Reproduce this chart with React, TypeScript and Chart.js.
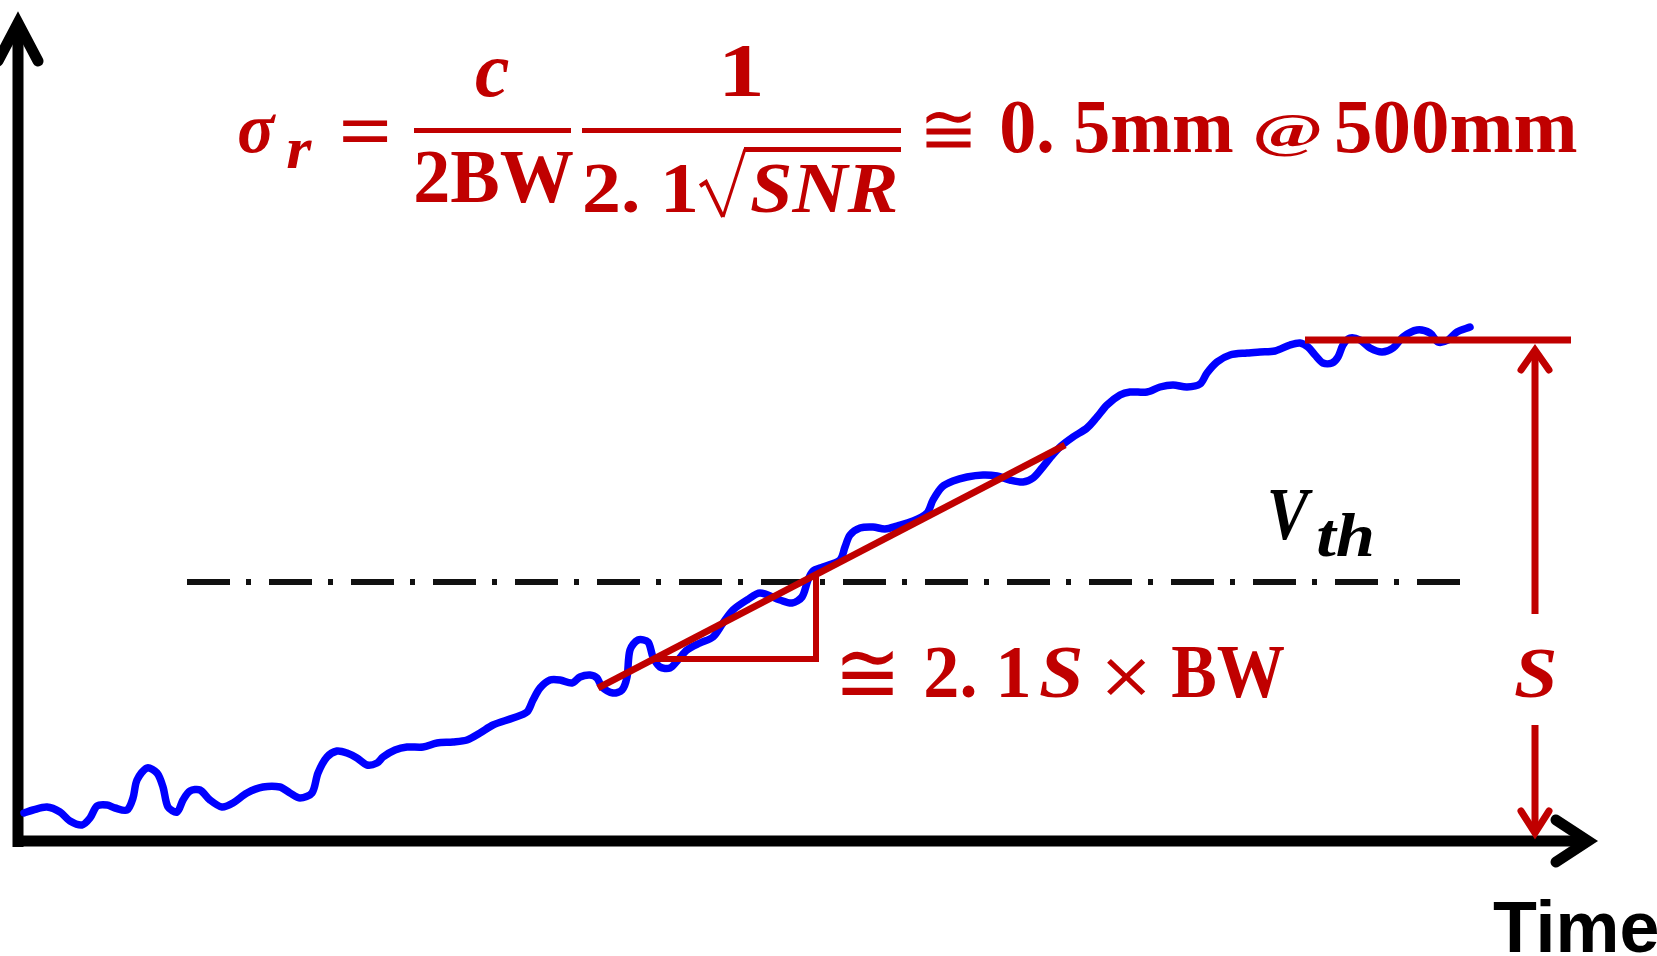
import { useEffect, useRef } from "react";
import Chart from "chart.js/auto";

// ---- data (time units, signal units) ----
const signalTime = [6, 15, 29, 42, 52, 64, 72, 79, 89, 97, 109, 115, 119, 129, 139, 145, 150, 159, 165, 172, 182, 192, 204, 215, 229, 245, 262, 272, 282, 294, 300, 309, 319, 329, 339, 349, 359, 365, 377, 389, 405, 419, 435, 449, 462, 475, 495, 509, 515, 522, 532, 542, 554, 562, 572, 579, 584, 595, 604, 609, 612, 620, 630, 635, 642, 652, 660, 669, 682, 695, 705, 715, 729, 742, 762, 774, 784, 790, 795, 805, 822, 827, 832, 842, 855, 867, 879, 895, 909, 915, 924, 935, 949, 965, 979, 992, 1005, 1015, 1024, 1032, 1042, 1055, 1069, 1079, 1089, 1102, 1112, 1129, 1142, 1155, 1169, 1182, 1189, 1199, 1212, 1229, 1242, 1257, 1272, 1282, 1290, 1297, 1305, 1314, 1320, 1325, 1332, 1342, 1352, 1364, 1375, 1385, 1399, 1412, 1420, 1430, 1439, 1452];
const signalVolt = [28, 31, 34, 29, 20, 16, 23, 35, 36, 33, 31, 43, 61, 73, 68, 54, 34, 29, 41, 50, 51, 41, 34, 38, 48, 54, 54, 48, 43, 48, 68, 84, 90, 88, 83, 76, 78, 84, 91, 94, 94, 98, 99, 101, 108, 116, 123, 129, 141, 153, 161, 161, 158, 164, 166, 163, 154, 148, 151, 164, 191, 201, 199, 184, 174, 173, 181, 191, 198, 204, 218, 231, 241, 248, 241, 238, 244, 261, 270, 274, 281, 294, 306, 313, 314, 312, 315, 320, 328, 341, 354, 360, 364, 366, 365, 361, 359, 363, 373, 383, 394, 404, 413, 424, 436, 446, 449, 449, 454, 456, 454, 457, 468, 479, 486, 488, 489, 490, 496, 498, 494, 486, 478, 478, 484, 496, 503, 501, 493, 489, 493, 504, 511, 508, 499, 501, 509, 514];

const slopeTime = [580, 1047];
const slopeVolt = [153, 396];
const stepTime = [635, 798, 798];
const stepVolt = [182, 182, 266];
const levelTime = [1287, 1553];
const levelVolt = [501, 501];
const thresholdTime = [169, 1442];
const thresholdVolt = [259, 259];
const arrowUpTime = [1517, 1517];
const arrowUpVolt = [227, 491];
const arrowUpHeadTime = [1503, 1517, 1531];
const arrowUpHeadVolt = [471, 491, 471];
const arrowDownTime = [1517, 1517];
const arrowDownVolt = [116, 8];
const arrowDownHeadTime = [1503, 1517, 1531];
const arrowDownHeadVolt = [30, 8, 30];

const timeRange = [0, 1582];
const voltRange = [0, 830];

const RED = "#C00000";
const BLUE = "#0000FF";
const BLACK = "#000000";

const SERIF = '"Liberation Serif", "DejaVu Serif", serif';
const F_B = `bold 80px ${SERIF}`;
const F_BI = `italic bold 80px ${SERIF}`;
const F_SYM = `80px "DejaVu Serif", serif`;
const F_SANS = `bold 80px "Liberation Sans", Arial, sans-serif`;

const pts = (xs: number[], ys: number[]) => xs.map((x, i) => ({ x, y: ys[i] }));

function fitText(
  ctx: CanvasRenderingContext2D,
  text: string,
  font: string,
  color: string,
  x0: number,
  y0: number,
  x1: number,
  y1: number,
  uniform = false
) {
  ctx.save();
  ctx.font = font;
  ctx.textAlign = "left";
  ctx.textBaseline = "alphabetic";
  const m = ctx.measureText(text);
  const left = -m.actualBoundingBoxLeft;
  const right = m.actualBoundingBoxRight;
  const top = -m.actualBoundingBoxAscent;
  const bottom = m.actualBoundingBoxDescent;
  const sy = (y1 - y0) / (bottom - top);
  const sx = uniform ? sy : (x1 - x0) / (right - left);
  ctx.translate(x0 - left * sx, y0 - top * sy);
  ctx.scale(sx, sy);
  ctx.fillStyle = color;
  ctx.fillText(text, 0, 0);
  ctx.restore();
}

const axesPlugin = {
  id: "axesArrows",
  beforeDatasetsDraw(chart: any) {
    const { ctx, chartArea } = chart;
    const L = chartArea.left;
    const B = chartArea.bottom;
    const R = chartArea.right;
    const T = chartArea.top;
    ctx.save();
    ctx.strokeStyle = BLACK;
    ctx.lineWidth = 11;
    ctx.lineCap = "butt";
    ctx.beginPath();
    ctx.moveTo(L, B + 6);
    ctx.lineTo(L, T + 12);
    ctx.moveTo(L - 5, B);
    ctx.lineTo(R - 12, B);
    ctx.stroke();
    ctx.lineCap = "round";
    ctx.lineJoin = "miter";
    ctx.miterLimit = 10;
    ctx.beginPath();
    ctx.moveTo(L - 20, T + 50);
    ctx.lineTo(L, T + 12);
    ctx.lineTo(L + 20, T + 50);
    ctx.stroke();
    ctx.beginPath();
    ctx.moveTo(R - 44, B - 21);
    ctx.lineTo(R - 12, B);
    ctx.lineTo(R - 44, B + 21);
    ctx.stroke();
    ctx.restore();
  },
  afterDraw(chart: any) {
    const { ctx } = chart;
    ctx.save();
    // formula
    fitText(ctx, "σ", F_BI, RED, 239, 114, 276, 153);
    fitText(ctx, "r", F_BI, RED, 287, 140, 312, 168);
    fitText(ctx, "=", F_B, RED, 342, 120, 388, 142);
    fitText(ctx, "c", F_BI, RED, 476, 59, 509, 97);
    fitText(ctx, "2BW", F_B, RED, 416, 150, 573, 203);
    fitText(ctx, "1", F_B, RED, 725, 45, 760, 96);
    fitText(ctx, "2. 1", F_B, RED, 585, 163, 695, 213);
    fitText(ctx, "SNR", F_BI, RED, 751, 163, 896, 213);
    fitText(ctx, "≅", F_SYM, RED, 926, 111, 971, 148);
    fitText(ctx, "0. 5mm", F_B, RED, 1002, 100, 1233, 153);
    fitText(ctx, "@", F_B, RED, 1256, 115, 1320, 157);
    fitText(ctx, "500mm", F_B, RED, 1337, 100, 1577, 153);
    // fraction bars and radical
    ctx.fillStyle = RED;
    ctx.fillRect(414, 128, 157, 5);
    ctx.fillRect(582, 128, 319, 5);
    ctx.fillRect(744, 147, 157, 5);
    ctx.strokeStyle = RED;
    ctx.lineJoin = "miter";
    ctx.lineWidth = 4;
    ctx.beginPath();
    ctx.moveTo(700, 186);
    ctx.lineTo(706, 182);
    ctx.lineTo(723, 217);
    ctx.stroke();
    ctx.lineWidth = 3;
    ctx.beginPath();
    ctx.moveTo(723, 217);
    ctx.lineTo(745, 149);
    ctx.stroke();
    // slope annotation
    fitText(ctx, "≅", F_SYM, RED, 842, 650, 893, 695);
    fitText(ctx, "2. 1", F_B, RED, 926, 647, 1028, 698);
    fitText(ctx, "S", F_BI, RED, 1040, 647, 1081, 698);
    fitText(ctx, "×", F_SYM, RED, 1107, 658, 1146, 695);
    fitText(ctx, "BW", F_B, RED, 1172, 647, 1284, 698);
    // threshold label
    fitText(ctx, "V", F_BI, BLACK, 1270, 490, 1313, 540);
    fitText(ctx, "th", F_BI, BLACK, 1318, 513, 1372, 557);
    // S label
    fitText(ctx, "S", F_BI, RED, 1515, 648, 1555, 698);
    // axis title
    fitText(ctx, "Time", F_SANS, BLACK, 1493, 900, 1657, 953, true);
    ctx.restore();
  },
};

export default function App() {
  const ref = useRef<HTMLCanvasElement | null>(null);
  useEffect(() => {
    if (!ref.current) return;
    const line = (data: any[], color: string, width: number, order: number, extra: any = {}) => ({
      data,
      showLine: true,
      borderColor: color,
      backgroundColor: color,
      borderWidth: width,
      pointRadius: 0,
      pointHoverRadius: 0,
      fill: false,
      clip: false,
      order,
      ...extra,
    });
    const chart = new Chart(ref.current, {
      type: "scatter",
      data: {
        datasets: [
          line(pts(slopeTime, slopeVolt), RED, 7, 1),
          line(pts(stepTime, stepVolt), RED, 6, 1, { borderJoinStyle: "miter" }),
          line(pts(levelTime, levelVolt), RED, 7, 1),
          line(pts(arrowUpTime, arrowUpVolt), RED, 7, 1),
          line(pts(arrowUpHeadTime, arrowUpHeadVolt), RED, 7, 1, { borderCapStyle: "round", borderJoinStyle: "miter" }),
          line(pts(arrowDownTime, arrowDownVolt), RED, 7, 1),
          line(pts(arrowDownHeadTime, arrowDownHeadVolt), RED, 7, 1, { borderCapStyle: "round", borderJoinStyle: "miter" }),
          line(pts(thresholdTime, thresholdVolt), "#111111", 6, 2, { borderDash: [43, 16, 5, 18] }),
          line(pts(signalTime, signalVolt), BLUE, 7.5, 3, { tension: 0.3, borderJoinStyle: "round", borderCapStyle: "round" }),
        ],
      },
      options: {
        animation: false,
        responsive: false,
        events: [],
        layout: { padding: { left: 18, right: 57, top: 11, bottom: 115 } },
        plugins: { legend: { display: false }, tooltip: { enabled: false }, title: { display: false } },
        scales: {
          x: { type: "linear", min: timeRange[0], max: timeRange[1], display: false },
          y: { type: "linear", min: voltRange[0], max: voltRange[1], display: false },
        },
      },
      plugins: [axesPlugin],
    });
    return () => chart.destroy();
  }, []);
  return (
    <div style={{ position: "fixed", left: 0, top: 0, width: 1657, height: 956, background: "#fff" }}>
      <canvas ref={ref} width={1657} height={956} style={{ display: "block" }} />
    </div>
  );
}
